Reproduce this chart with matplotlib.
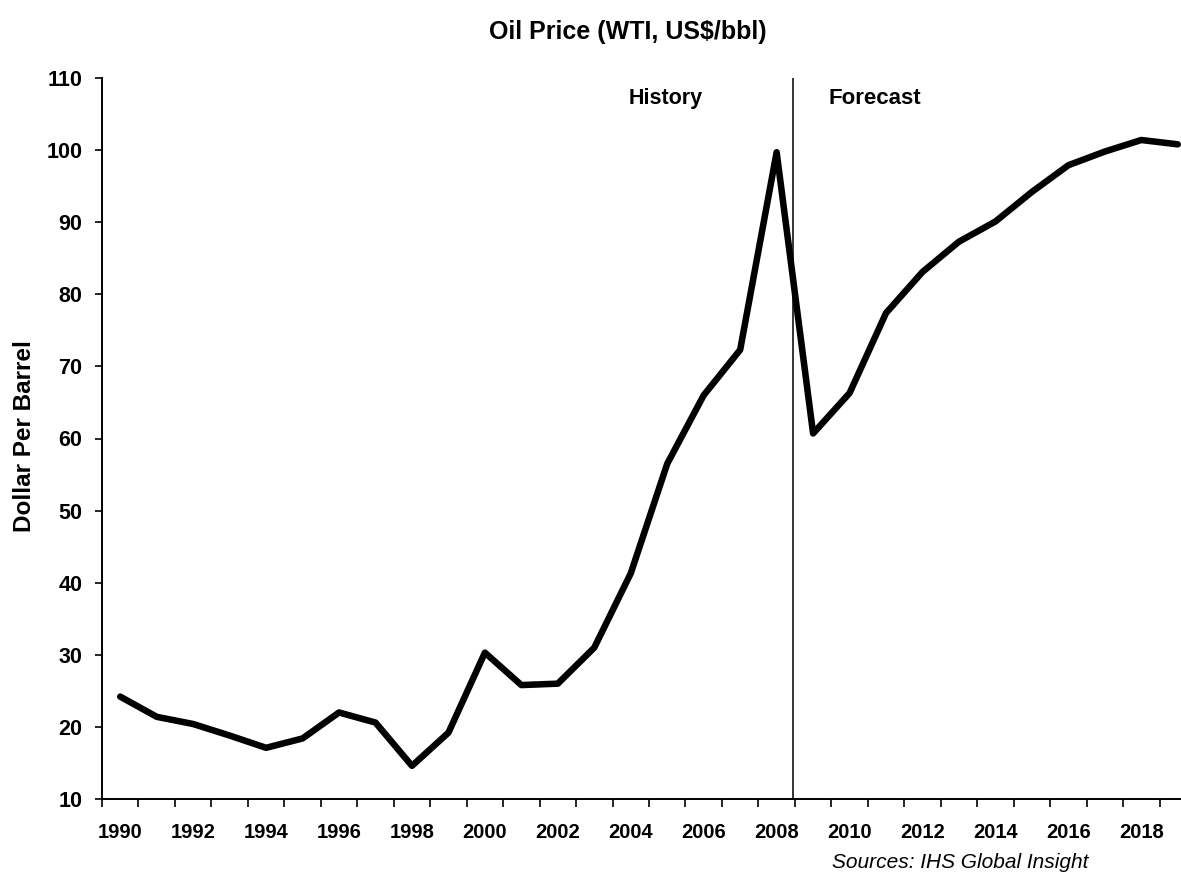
import numpy as np
import matplotlib.pyplot as plt

plt.rcParams['font.family'] = ['Liberation Sans', 'DejaVu Sans']

# annual WTI price
hist_years = list(range(1990, 2009))
hist_price = [24.2, 21.4, 20.4, 18.8, 17.1, 18.4, 22.0, 20.6, 14.6, 19.2, 30.3,
              25.8, 26.0, 31.0, 41.3, 56.5, 66.0, 72.3, 99.7]
fcst_years = list(range(2009, 2020))
fcst_price = [60.7, 66.3, 77.4, 83.1, 87.3, 90.1, 94.2, 97.9, 99.8, 101.4, 100.8]

tick_years = list(range(1990, 2019, 2))
y_ticks = list(range(10, 111, 10))
split_year = 2008.45

fig = plt.figure(figsize=(11.81, 8.76), dpi=100)
ax = fig.add_axes([102 / 1181, 1 - 799 / 876, 1094 / 1181, 721 / 876])

years = hist_years + fcst_years
price = hist_price + fcst_price
ax.plot(years, price, color='black', lw=4.7, solid_joinstyle='round',
        solid_capstyle='round', zorder=3)
ax.axvline(split_year, color='black', lw=1.1, zorder=2)

ax.set_xlim(1989.5, 2019.5)
ax.set_ylim(10, 110)
ax.set_yticks(y_ticks)
ax.set_xticks(np.arange(1989.5, 2020, 1.0))
ax.set_xticklabels([])
ax.set_xticks(tick_years, minor=True)
ax.set_xticklabels([str(y) for y in tick_years], minor=True)
ax.tick_params(axis='x', which='major', direction='out', length=6, width=1.2)
ax.tick_params(axis='x', which='minor', length=0, pad=17, labelsize=14.5)
ax.tick_params(axis='y', direction='out', length=5, width=1.2, pad=9, labelsize=15.5)
for lab in ax.get_xticklabels(minor=True) + ax.get_yticklabels():
    lab.set_fontweight('bold')

for s in ['top', 'right']:
    ax.spines[s].set_visible(False)
for s in ['left', 'bottom']:
    ax.spines[s].set_linewidth(1.4)

ax.text(2003.95, 107.1, 'History', fontsize=15.5, fontweight='bold', va='center')
ax.text(2009.41, 107.1, 'Forecast', fontsize=16, fontweight='bold', va='center')

fig.text(628 / 1181, 1 - 32 / 876, 'Oil Price (WTI, US$/bbl)', ha='center', va='center',
         fontsize=18, fontweight='bold')
fig.text(25 / 1181, 1 - 436 / 876, 'Dollar Per Barrel', rotation=90, ha='center',
         va='center', fontsize=17.5, fontweight='bold')
fig.text(832 / 1181, 1 - 862 / 876, 'Sources: IHS Global Insight', ha='left',
         va='center', fontsize=15, style='italic')

fig.savefig('out.png', dpi=100)
